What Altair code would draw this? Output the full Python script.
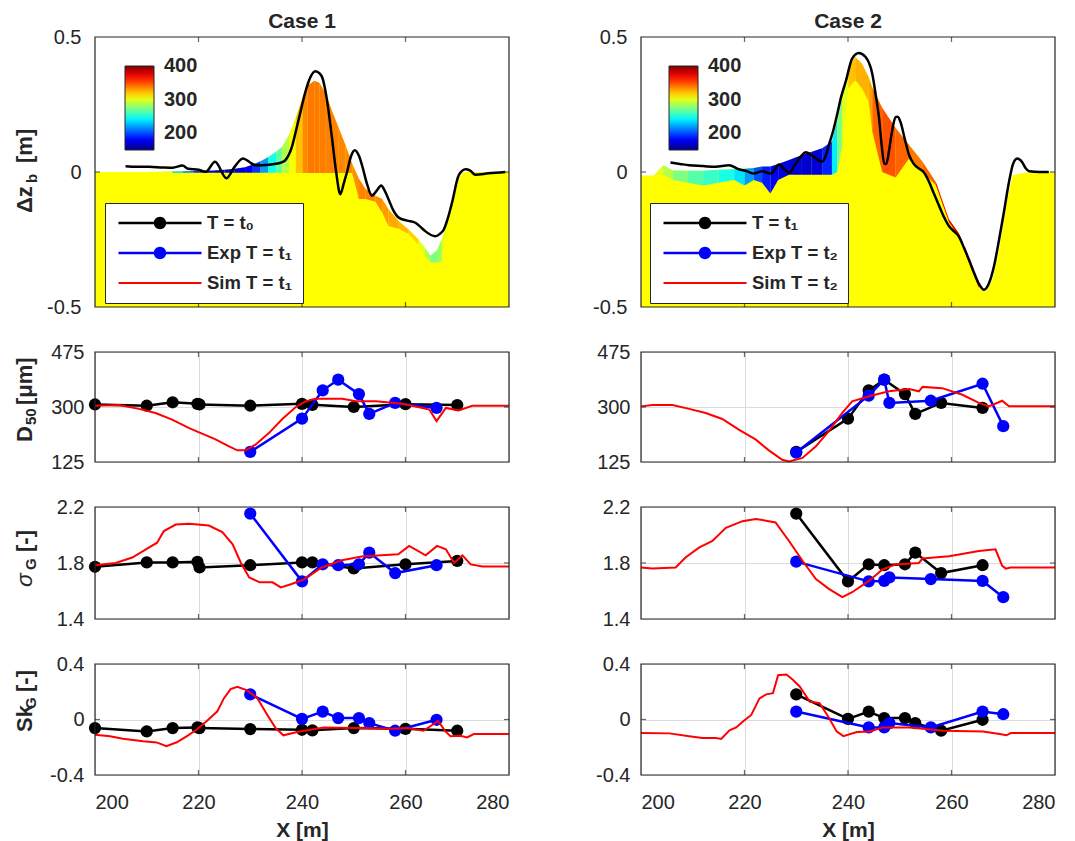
import altair as alt
import pandas as pd

FONT = "Liberation Sans"
INK = "#262626"
GRID = "#dcdcdc"
BLACK, BLUE, RED, YELLOW = "#000000", "#0000ff", "#ff0000", "#ffff00"

PANEL_W = 414
H_BED, H_D50, H_SIG, H_SK = 270, 110, 112, 111

X_TICKS = [200, 220, 240, 260, 280]
X_INNER = [220, 240, 260]
BED_TICKS = [-0.5, 0, 0.5]
D50_TICKS = [125, 300, 475]
SIG_TICKS = [1.4, 1.8, 2.2]
SK_TICKS = [-0.4, 0, 0.4]
CB_TICKS = [200, 300, 400]
JET_STOPS = [150, 181.4, 244.1, 306.9, 369.6, 401]
JET_COLORS = ["#000080", "#0000ff", "#00ffff", "#ffff00", "#ff0000", "#800000"]

# ---------------- Case 1 : bed level panel ----------------
c1_bed_x = [200, 205, 210, 215, 217, 219, 221, 223, 225, 227, 229, 230.5, 232, 233.5, 235,
            236.2, 237.5, 238.8, 240.1, 241.1, 242.4, 243.4, 244.6, 245.8, 247.1, 248.4, 249.7,
            251, 252.3, 254.2, 255.5, 256.7, 258.7, 260.6, 262.5, 263.8, 264.8, 266.1, 267,
            268.3, 269.3, 270.3, 271.2, 275, 280]
c1_bed_top = [0.0, 0.0, 0.0, 0.002, 0.003, 0.004, 0.005, 0.006, 0.008, 0.012, 0.018, 0.028, 0.04,
              0.056, 0.075, 0.094, 0.138, 0.2, 0.276, 0.32, 0.338, 0.33, 0.288, 0.226, 0.163, 0.1,
              0.031, -0.025, -0.063, -0.088, -0.1, -0.138, -0.182, -0.213, -0.25, -0.282, -0.31,
              -0.29, -0.25, -0.175, -0.1, -0.025, 0.0, 0.0, 0.0]
c1_bed_bot = [0.0, 0.0, 0.0, -0.004, -0.003, -0.003, -0.003, -0.003, -0.003, -0.003, -0.003,
              -0.003, -0.003, -0.003, -0.003, -0.003, -0.004, -0.004, -0.004, -0.004, -0.004,
              -0.004, -0.004, -0.004, -0.004, -0.004, -0.004, -0.1, -0.1, -0.11, -0.15, -0.2,
              -0.21, -0.23, -0.27, -0.31, -0.335, -0.335, -0.33, -0.175, -0.1, -0.025, 0.0, 0.0, 0.0]
c1_bed_d50 = [300, 300, 300, 235, 215, 195, 180, 172, 170, 172, 180, 195, 220, 248, 268, 288,
              305, 322, 336, 340, 340, 339, 338, 338, 337, 336, 335, 338, 338, 335, 332, 328,
              324, 318, 300, 285, 275, 280, 300, 300, 300, 300, 300, 300, 300]
c1_t0_x = [205.9, 208, 210.4, 213, 215, 216.9, 218, 220, 221.4, 223.2, 225.4, 227, 228.6, 230, 231,
           233.6, 236, 236.8, 238, 238.8, 239.8, 240.7, 241.6, 242.6, 243.4, 243.9, 244.8, 245.8,
           246.6, 247.4, 248.1, 248.7, 249.5, 250.2, 251, 251.6, 252.5, 253.5, 254.4, 255.3, 256,
           256.7, 257.6, 258.7, 260.3, 261.9, 263, 263.8, 265.8, 266.6, 267.4, 268.2, 269, 270.3,
           271.6, 272.5, 273.5, 276, 279.3]
c1_t0_z = [0.021, 0.019, 0.019, 0.017, 0.016, 0.024, 0.012, 0.008, 0.001, 0.038, -0.023, 0.02, 0.05,
           0.035, 0.025, 0.027, 0.035, 0.044, 0.09, 0.15, 0.23, 0.30, 0.35, 0.373, 0.365, 0.351,
           0.27, 0.125, 0.0, -0.082, -0.04, 0.0, 0.06, 0.081, 0.06, 0.025, -0.04, -0.088, -0.07,
           -0.05, -0.07, -0.1, -0.14, -0.169, -0.18, -0.188, -0.205, -0.219, -0.238, -0.23, -0.213,
           -0.17, -0.113, -0.012, 0.01, 0.005, -0.01, -0.005, 0.0]

# ---------------- Case 2 : bed level panel ----------------
c2_bed_x = [200, 202.5, 204.3, 206.2, 209, 212, 215, 218, 220, 221.8, 223.4, 225, 226.5, 228.6,
            231.1, 233, 235, 236.9, 237.9, 238.9, 240.1, 241.4, 242.7, 244, 244.7, 246.6, 249.2,
            251.8, 254.4, 257, 259.5, 261.4, 263.4, 265.3, 266.6, 267.9, 269.2, 270.5, 271.8,
            273.1, 276, 280]
c2_bed_top = [-0.013, -0.013, 0.025, 0.006, 0.005, 0.005, 0.008, 0.01, 0.012, 0.015, 0.02, 0.02,
              0.03, 0.044, 0.063, 0.075, 0.088, 0.113, 0.19, 0.276, 0.388, 0.426, 0.401, 0.351,
              0.313, 0.238, 0.163, 0.1, 0.038, -0.038, -0.175, -0.226, -0.326, -0.42, -0.445,
              -0.4, -0.288, -0.125, -0.013, -0.006, 0.0, 0.0]
c2_bed_bot = [-0.013, -0.013, -0.01, -0.03, -0.04, -0.05, -0.04, -0.03, -0.05, -0.03, -0.04,
              -0.08, -0.03, -0.01, -0.01, -0.01, -0.01, -0.01, 0.0, 0.1, 0.31, 0.34, 0.31, 0.26,
              0.15, 0.0, -0.02, 0.05, 0.0, -0.05, -0.185, -0.238, -0.338, -0.43, -0.445, -0.4,
              -0.288, -0.125, -0.013, -0.006, 0.0, 0.0]
c2_bed_d50 = [300, 300, 288, 275, 265, 258, 250, 238, 220, 200, 188, 180, 175, 172, 170, 172,
              190, 240, 275, 300, 322, 326, 326, 330, 345, 350, 345, 340, 345, 370, 378, 378,
              378, 300, 300, 300, 300, 300, 300, 300, 300, 300]
c2_t0_x = [205.7, 207.5, 209.3, 212, 214.4, 217, 218.9, 220.5, 221.8, 223.4, 224.3, 225.1, 226.7,
           227.7, 228.6, 229.9, 231, 231.8, 232.8, 233.8, 235, 235.7, 236.3, 237.1, 237.9, 238.7,
           239.6, 240.8, 242.1, 243.4, 244.7, 245.4, 246, 246.5, 247, 247.4, 247.9, 248.5, 249.2,
           249.6, 250.2, 251, 251.8, 252.7, 253.7, 254.6, 255.7, 256.6, 257.6, 258.5, 259.5,
           260.5, 261.4, 262.4, 263.4, 264.4, 265.3, 266.3, 267.2, 268.2, 269.2, 270.2, 271.1,
           271.9, 272.7, 273.6, 274.3, 275, 277, 278.8]
c2_t0_z = [0.035, 0.03, 0.025, 0.022, 0.019, 0.025, 0.01, 0.003, -0.006, 0.003, -0.002, -0.006,
           0.028, 0.01, -0.002, 0.031, 0.06, 0.073, 0.065, 0.05, 0.038, 0.06, 0.1, 0.15, 0.213,
           0.28, 0.338, 0.42, 0.441, 0.426, 0.363, 0.28, 0.2, 0.1, 0.031, 0.03, 0.075, 0.15,
           0.203, 0.205, 0.182, 0.12, 0.063, 0.03, 0.013, 0.0, -0.038, -0.08, -0.125, -0.165,
           -0.2, -0.22, -0.238, -0.28, -0.326, -0.375, -0.414, -0.436, -0.414, -0.35, -0.25,
           -0.14, -0.038, 0.03, 0.05, 0.038, 0.015, 0.003, 0.0, 0.0]

# ---------------- sediment samples ----------------
# T = t0 (case 1)
s0_x = [200, 210, 215, 219.8, 220.2, 230, 240, 242, 250, 260, 270]
s0_d50 = [308, 304, 315, 310, 308, 304, 310, 307, 300, 309, 306]
s0_sig = [1.773, 1.804, 1.804, 1.808, 1.768, 1.784, 1.804, 1.804, 1.761, 1.791, 1.815]
s0_sk = [-0.062, -0.086, -0.062, -0.057, -0.062, -0.069, -0.074, -0.078, -0.062, -0.067, -0.081]
# T = t1 (Exp of case 1, initial of case 2)
s1_x = [230, 240, 244, 247, 251, 253, 258, 266]
s1_d50 = [157, 263, 353, 387, 341, 278, 313, 297]
s1_sig = [2.153, 1.669, 1.791, 1.784, 1.791, 1.874, 1.728, 1.784]
s1_sk = [0.181, 0.005, 0.057, 0.01, 0.01, -0.026, -0.081, -0.002]
# T = t2 (Exp of case 2)
s2_x = [230, 244, 247, 248, 256, 266, 270]
s2_d50 = [155, 336, 387, 313, 320, 374, 239]
s2_sig = [1.81, 1.669, 1.672, 1.697, 1.685, 1.672, 1.556]
s2_sk = [0.057, -0.057, -0.057, -0.026, -0.057, 0.057, 0.038]

# ---------------- simulations ----------------
sim1_d50_x = [200, 204.6, 208.5, 211.7, 214.9, 218.2, 220, 223.2, 225.9, 227.5, 229.1, 231, 233.6,
              236.2, 238.8, 240.7, 242.6, 247.8, 250.4, 254.3, 259.4, 263.3, 264.6, 266, 267.8,
              270.3, 272.9, 280]
sim1_d50 = [304, 306, 294, 281, 260, 233, 220, 198, 175, 162, 162, 180, 217, 262, 300, 318, 326,
            326, 318, 318, 310, 297, 292, 255, 297, 289, 304, 304]
sim2_d50_x = [200, 202.2, 206.1, 209.3, 212.5, 215.7, 218.9, 222.2, 224.7, 227.3, 228.6, 231.2,
              233.8, 236.3, 238.9, 240.8, 244.1, 247.9, 251.8, 253.7, 254.4, 258.2, 262.1, 265.3,
              267.2, 269.8, 271.1, 280]
sim2_d50 = [302, 306, 306, 294, 281, 262, 228, 196, 162, 132, 127, 138, 175, 223, 281, 318, 334,
            350, 357, 350, 364, 360, 339, 313, 302, 320, 302, 302]
sim1_sig_x = [200, 204, 207.2, 210.4, 212, 213.3, 215.6, 218.2, 222, 224.6, 226.6, 228.2, 229.8,
              231.8, 234.3, 235.9, 238, 240.5, 243.8, 247.7, 251.5, 255.4, 258.6, 260.7, 263.9,
              266.1, 267.8, 269.4, 271, 272.6, 274.9, 280]
sim1_sig = [1.784, 1.80, 1.839, 1.91, 1.945, 2.028, 2.075, 2.08, 2.068, 2.021, 1.933, 1.80, 1.697,
            1.662, 1.662, 1.626, 1.65, 1.685, 1.768, 1.82, 1.846, 1.855, 1.862, 1.922, 1.855,
            1.922, 1.898, 1.80, 1.855, 1.79, 1.775, 1.775]
sim2_sig_x = [200, 202.2, 206.7, 208.6, 211.2, 213.8, 216.4, 219.6, 222.2, 224.7, 226, 228.6,
              231.2, 233.8, 236.3, 238.9, 240.8, 244.1, 246.6, 249.2, 253.7, 254.4, 259.5, 265.3,
              268.5, 269.8, 270.5, 271.4, 280]
sim2_sig = [1.768, 1.76, 1.768, 1.839, 1.91, 1.957, 2.051, 2.099, 2.115, 2.099, 2.09, 1.957,
            1.816, 1.685, 1.615, 1.556, 1.591, 1.674, 1.752, 1.79, 1.80, 1.832, 1.848, 1.886,
            1.898, 1.78, 1.76, 1.768, 1.768]
sim1_sk_x = [200, 202.9, 205.4, 209.3, 211.9, 213.8, 215.8, 217.7, 219.6, 221.6, 223.6, 224.9,
             226.2, 227.5, 229.4, 231.4, 233.3, 234.9, 236.4, 239.1, 244.2, 250.6, 257.1, 260.3,
             263.5, 266.3, 267.7, 268.7, 270.6, 271.9, 273.2, 280]
sim1_sk = [-0.11, -0.12, -0.138, -0.157, -0.165, -0.193, -0.164, -0.121, -0.074, -0.01, 0.057,
           0.152, 0.219, 0.236, 0.21, 0.152, 0.033, -0.062, -0.114, -0.09, -0.057, -0.062, -0.067,
           -0.062, -0.081, -0.01, -0.086, -0.12, -0.117, -0.129, -0.105, -0.105]
sim2_sk_x = [200, 205.5, 209.3, 211.9, 214.5, 215.5, 217.1, 218.4, 219.7, 221.3, 222.9, 224.2,
             225.5, 226.5, 228.1, 229.4, 230.7, 232.6, 234.5, 236.2, 237.8, 239.1, 241.7, 244.2,
             246.8, 251.9, 254.5, 258.4, 266.1, 269.3, 270.6, 271.5, 280]
sim2_sk = [-0.098, -0.1, -0.12, -0.133, -0.133, -0.14, -0.078, -0.057, -0.014, 0.033, 0.152,
           0.181, 0.19, 0.319, 0.324, 0.284, 0.236, 0.129, 0.117, 0.02, -0.086, -0.12, -0.09,
           -0.086, -0.057, -0.057, -0.067, -0.081, -0.086, -0.105, -0.114, -0.098, -0.098]

names1 = ["T = t\u2080", "Exp T = t\u2081", "Sim T = t\u2081"]
names2 = ["T = t\u2081", "Exp T = t\u2082", "Sim T = t\u2082"]

# legend glyphs: line with dot / plain line (path units, scaled by sqrt(size)/2)
P_DOT = "M-4.15,-0.12H4.15V0.12H-4.15Z M0.62,0A0.62,0.62,0,1,1,-0.62,0A0.62,0.62,0,1,1,0.62,0Z"
P_LINE = "M-4.15,-0.1H4.15V0.1H-4.15Z"

ONE = pd.DataFrame({"k": [0]})


def x_enc(field, bottom, grid):
    if bottom:
        axis = alt.Axis(values=X_TICKS, title="X [m]", grid=grid, gridColor=GRID, ticks=False,
                        domain=False, labelFont=FONT, labelFontSize=20, labelColor=INK,
                        labelPadding=17, titleFont=FONT, titleFontSize=21, titleFontWeight="bold",
                        titleColor=INK, titlePadding=7)
    else:
        axis = alt.Axis(values=X_TICKS, title=None, labels=False, grid=grid, gridColor=GRID,
                        ticks=False, domain=False)
    return alt.X(f"{field}:Q", scale=alt.Scale(domain=[200, 280], nice=False, zero=False), axis=axis)


def y_enc(field, dom, ticks, grid, pad):
    axis = alt.Axis(values=ticks, title=None, grid=grid, gridColor=GRID, ticks=False, domain=False,
                    labelExpr="toString(datum.value)", labelFont=FONT, labelFontSize=20,
                    labelColor=INK, labelPadding=pad)
    return alt.Y(f"{field}:Q", scale=alt.Scale(domain=dom, nice=False, zero=False), axis=axis)


def title_layers(pieces):
    out = []
    for text, ypos, xpos, size, weight, style in pieces:
        out.append(alt.Chart(ONE).mark_text(text=text, angle=270, align="left",
                                            baseline="alphabetic", font=FONT, fontSize=size,
                                            fontWeight=weight, fontStyle=style, color=INK)
                   .encode(x=alt.value(xpos), y=alt.value(ypos)))
    return out


def frame_layers(dom, ticks, bottom, grid, pad):
    # plot box and inward ticks, drawn through the scales
    xe = x_enc("v", bottom, grid)
    ye = y_enc("v", dom, ticks, grid, pad)
    box = alt.Chart(ONE).mark_rect(filled=False, stroke=INK, strokeWidth=1.2).encode(
        x=x_enc("x0", bottom, grid), x2=alt.datum(280),
        y=y_enc("y0", dom, ticks, grid, pad), y2=alt.datum(dom[1])
    ).transform_calculate(x0="200", y0=str(dom[0]))
    xt = pd.DataFrame({"v": X_INNER})
    yt = pd.DataFrame({"v": [ticks[1]]})
    tb = alt.Chart(xt).mark_tick(orient="vertical", size=5, thickness=1.2, color=INK,
                                 yOffset=-2.5).encode(x=xe, y=alt.datum(dom[0]))
    tt = alt.Chart(xt).mark_tick(orient="vertical", size=5, thickness=1.2, color=INK,
                                 yOffset=2.5).encode(x=xe, y=alt.datum(dom[1]))
    tl = alt.Chart(yt).mark_tick(orient="horizontal", size=5, thickness=1.2, color=INK,
                                 xOffset=2.5).encode(y=ye, x=alt.datum(200))
    tr = alt.Chart(yt).mark_tick(orient="horizontal", size=5, thickness=1.2, color=INK,
                                 xOffset=-2.5).encode(y=ye, x=alt.datum(280))
    return [box, tb, tt, tl, tr]


def bed_panel(bx, btop, bbot, bd50, px, pz, names, title, gx, lx, pieces):
    dom = [-0.5, 0.5]
    prof = pd.DataFrame({"x": bx, "top": btop, "bot": bbot})
    rows = []
    for i in range(len(bx) - 1):
        if btop[i] - bbot[i] <= 0 and btop[i + 1] - bbot[i + 1] <= 0:
            continue
        for j in (i, i + 1):
            rows.append({"seg": i, "x": bx[j], "top": btop[j], "bot": bbot[j], "d50": bd50[i]})
    segs = pd.DataFrame(rows)
    jet = alt.Scale(domain=JET_STOPS, range=JET_COLORS, interpolate="rgb")
    cb_legend = alt.Legend(type="gradient", orient="none", legendX=gx, legendY=29,
                           direction="vertical", title=None,
                           gradientLength=84, gradientThickness=29, values=CB_TICKS,
                           labelFont=FONT, labelFontSize=20, labelFontWeight="bold",
                           labelColor=INK, labelOffset=10, gradientStrokeColor=INK,
                           gradientStrokeWidth=1, padding=0)
    base = alt.Chart(prof).mark_area(color=YELLOW).encode(
        x=x_enc("x", False, False), y=y_enc("top", dom, BED_TICKS, False, 14),
        y2=alt.datum(-0.5))
    layer_col = alt.Chart(segs).mark_area().encode(
        x=x_enc("x", False, False), y=y_enc("top", dom, BED_TICKS, False, 14), y2="bot:Q",
        color=alt.Color("d50:Q", scale=jet, legend=cb_legend),
        detail="seg:N")
    prof_line = alt.Chart(pd.DataFrame({"x": px, "z": pz})).mark_line(
        color=BLACK, strokeWidth=2.5, interpolate="monotone").encode(
        x=x_enc("x", False, False), y=y_enc("z", dom, BED_TICKS, False, 14))
    leg = alt.Legend(orient="none", legendX=lx, legendY=166, title=None, padding=10,
                     rowPadding=10, symbolSize=400, symbolOffset=35, labelOffset=37,
                     symbolStrokeWidth=0, labelFont=FONT, labelFontSize=18.5,
                     labelFontWeight="bold", labelColor=INK, labelLimit=300,
                     fillColor="white", strokeColor=INK)
    leg_layer = alt.Chart(pd.DataFrame({"series": names})).mark_point(
        filled=True, opacity=1, size=400).encode(
        x=x_enc("x", False, False), y=y_enc("y", dom, BED_TICKS, False, 14),
        fill=alt.Fill("series:N", scale=alt.Scale(domain=names, range=[BLACK, BLUE, RED]),
                      legend=leg),
        shape=alt.Shape("series:N", scale=alt.Scale(domain=names, range=[P_DOT, P_DOT, P_LINE]),
                        legend=leg))
    layers = ([base, layer_col, prof_line] + frame_layers(dom, BED_TICKS, False, False, 14)
              + [leg_layer] + title_layers(pieces))
    return alt.layer(*layers).resolve_scale(color="independent", fill="independent",
                                            shape="independent").properties(
        width=PANEL_W, height=H_BED,
        title=alt.TitleParams(title, font=FONT, fontSize=21, fontWeight="bold", color=INK,
                              offset=-5, anchor="middle", frame="group"))


def line_panel(h, dom, ticks, bottom, black, blue, red, pieces):
    layers = []
    for (xs, ys), col, pts, sw in ((black, BLACK, True, 2.5), (blue, BLUE, True, 2.5),
                                   (red, RED, False, 2)):
        df = pd.DataFrame({"x": xs, "y": ys})
        if pts:
            mk = alt.Chart(df).mark_line(color=col, strokeWidth=sw, point=alt.OverlayMarkDef(
                filled=True, size=150, color=col, opacity=1))
        else:
            mk = alt.Chart(df).mark_line(color=col, strokeWidth=sw)
        layers.append(mk.encode(x=x_enc("x", bottom, True), y=y_enc("y", dom, ticks, True, 11)))
    layers += frame_layers(dom, ticks, bottom, True, 11)
    layers += title_layers(pieces)
    return alt.layer(*layers).properties(width=PANEL_W, height=h)


T_BED = [("\u0394z", 176, -63, 22, "bold", "normal"), ("b", 146, -58, 15, "bold", "normal"),
         ("[m]", 126, -63, 22, "bold", "normal")]
T_D50 = [("D", 90, -63, 22, "bold", "normal"), ("50", 73, -59, 15, "bold", "normal"),
         ("[\u03bcm]", 53, -63, 22, "bold", "normal")]
T_SIG = [("\u03c3", 80, -63, 23, "normal", "italic"), ("G", 63, -59, 15, "bold", "normal"),
         ("[-]", 45, -63, 22, "bold", "normal")]
T_SK = [("Sk", 68, -63, 22, "bold", "normal"), ("G", 45, -59, 15, "bold", "normal"),
        ("[-]", 28, -63, 22, "bold", "normal")]

top1 = bed_panel(c1_bed_x, c1_bed_top, c1_bed_bot, c1_bed_d50, c1_t0_x, c1_t0_z, names1,
                 "Case 1", 30, 10, T_BED)
top2 = bed_panel(c2_bed_x, c2_bed_top, c2_bed_bot, c2_bed_d50, c2_t0_x, c2_t0_z, names2,
                 "Case 2", 28, 9, [])
d1 = line_panel(H_D50, [125, 475], D50_TICKS, False, (s0_x, s0_d50), (s1_x, s1_d50),
                (sim1_d50_x, sim1_d50), T_D50)
d2 = line_panel(H_D50, [125, 475], D50_TICKS, False, (s1_x, s1_d50), (s2_x, s2_d50),
                (sim2_d50_x, sim2_d50), [])
g1 = line_panel(H_SIG, [1.4, 2.2], SIG_TICKS, False, (s0_x, s0_sig), (s1_x, s1_sig),
                (sim1_sig_x, sim1_sig), T_SIG)
g2 = line_panel(H_SIG, [1.4, 2.2], SIG_TICKS, False, (s1_x, s1_sig), (s2_x, s2_sig),
                (sim2_sig_x, sim2_sig), [])
k1 = line_panel(H_SK, [-0.4, 0.4], SK_TICKS, True, (s0_x, s0_sk), (s1_x, s1_sk),
                (sim1_sk_x, sim1_sk), T_SK)
k2 = line_panel(H_SK, [-0.4, 0.4], SK_TICKS, True, (s1_x, s1_sk), (s2_x, s2_sk),
                (sim2_sk_x, sim2_sk), [])

chart = alt.concat(top1, top2, d1, d2, g1, g2, k1, k2, columns=2,
                   spacing={"row": 45, "column": 132}, bounds="flush", align="each")
chart = chart.resolve_scale(color="independent", shape="independent", fill="independent")
chart = chart.properties(padding={"left": 5, "top": 3, "right": 5, "bottom": 5},
                         background="white")
chart = chart.configure(font=FONT).configure_view(strokeWidth=0)

chart.save("out.html", embed_options={"renderer": "svg", "actions": False})
